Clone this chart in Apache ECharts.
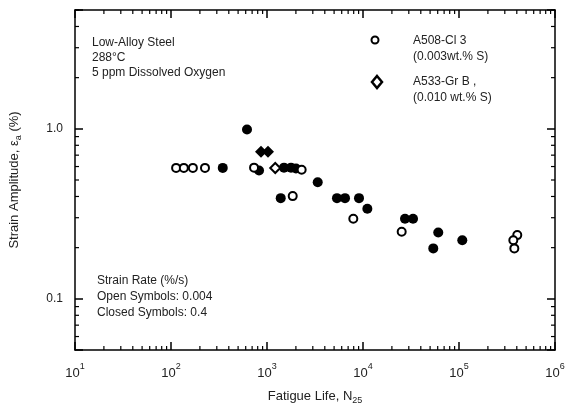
<!DOCTYPE html>
<html>
<head>
<meta charset="utf-8">
<script src="https://cdn.jsdelivr.net/npm/echarts@6/dist/echarts.min.js"></script>
<style>
  html, body { margin: 0; padding: 0; background: #fff; }
  #graph { width: 575px; height: 411px; }
</style>
</head>
<body>
<div id="graph"></div>
<script>
// fatigue life N25 vs strain amplitude (%)
const a508Closed = [
  [619, 0.99], [346, 0.589], [826, 0.568], [1503, 0.591], [1778, 0.591],
  [2004, 0.584], [3375, 0.485], [1390, 0.391], [5357, 0.391], [6494, 0.391],
  [9085, 0.391], [11100, 0.339], [27385, 0.296], [33200, 0.296],
  [60800, 0.2455], [53950, 0.198], [108200, 0.221]
];
const a508Open = [
  [113, 0.589], [136, 0.589], [169, 0.589], [226, 0.589], [733, 0.591],
  [2296, 0.574], [1853, 0.402], [7925, 0.296], [25290, 0.248],
  [404600, 0.237], [368000, 0.221], [377000, 0.198]
];
const a533Closed = [[866, 0.734], [1024, 0.734]];
const a533Open = [[1219, 0.588]];

const xTicks = [10, 100, 1000, 10000, 100000, 1000000];
const yTickLabels = { '-1': '0.1', '0': '1.0' };

// minor tick positions (2..9 x 10^n)
const xMinor = [];
for (let e = 1; e < 6; e++) for (let m = 2; m <= 9; m++) xMinor.push([m * Math.pow(10, e), 1]);
const yMinor = [];
[0.06, 0.07, 0.08, 0.09].forEach(v => yMinor.push([100, v]));
for (let e = -1; e < 1; e++) for (let m = 2; m <= 9; m++) {
  const v = m * Math.pow(10, e);
  if (v <= 5) yMinor.push([100, v]);
}

const font = 'Liberation Sans, Arial, sans-serif';
const ink = '#222';

function isPow10(v) {
  const l = Math.log10(v);
  return Math.abs(l - Math.round(l)) < 1e-6;
}

function createOptions() {
  const axisLine = { show: true, onZero: false, lineStyle: { color: '#000', width: 1.5 } };
  const tick = { show: true, inside: true, length: 8, lineStyle: { color: '#000', width: 1.5 } };
  const xBase = { type: 'log', logBase: 10, min: 10, max: 1000000, splitLine: { show: false }, axisLine: axisLine, axisTick: tick };
  const yBase = { type: 'log', logBase: 10, min: 0.05, max: 5, splitLine: { show: false }, axisLine: axisLine, axisTick: tick };
  return {
    animation: false,
    textStyle: { fontFamily: font },
    grid: { left: 75, right: 20, top: 10, bottom: 61 },
    xAxis: [
      Object.assign({}, xBase, {
        position: 'bottom',
        name: 'Fatigue Life, N{sub|25}',
        nameLocation: 'middle',
        nameGap: 38,
        nameTextStyle: {
          color: ink, fontSize: 13, fontFamily: font,
          rich: { sub: { fontSize: 9, verticalAlign: 'bottom', padding: [8, 0, 0, 0], fontFamily: font, color: ink } }
        },
        axisLabel: {
          margin: 12,
          color: ink,
          formatter: v => isPow10(v) ? '{b|10}{s|' + Math.round(Math.log10(v)) + '}' : '',
          rich: {
            b: { fontSize: 13, lineHeight: 18, verticalAlign: 'bottom', fontFamily: font, color: ink },
            s: { fontSize: 9, lineHeight: 18, verticalAlign: 'top', fontFamily: font, color: ink }
          }
        }
      }),
      Object.assign({}, xBase, { position: 'top', axisLabel: { show: false } })
    ],
    yAxis: [
      Object.assign({}, yBase, {
        position: 'left',
        name: 'Strain Amplitude, ε{sub|a} (%)',
        nameLocation: 'middle',
        nameGap: 52,
        nameTextStyle: {
          color: ink, fontSize: 13, fontFamily: font,
          rich: { sub: { fontSize: 9, verticalAlign: 'bottom', padding: [8, 0, 0, 0], fontFamily: font, color: ink } }
        },
        axisLabel: {
          margin: 12,
          color: ink,
          fontSize: 12,
          formatter: v => {
            if (!isPow10(v)) return '';
            const k = String(Math.round(Math.log10(v)));
            return yTickLabels[k] || '';
          }
        }
      }),
      Object.assign({}, yBase, { position: 'right', axisLabel: { show: false } })
    ],
    graphic: [
      { type: 'text', left: 92, top: 35, style: { text: 'Low-Alloy Steel\n288°C\n5 ppm Dissolved Oxygen', fill: ink, font: '12px ' + font, lineHeight: 15 } },
      { type: 'text', left: 97, top: 273, style: { text: 'Strain Rate (%/s)\nOpen Symbols: 0.004\nClosed Symbols: 0.4', fill: ink, font: '12px ' + font, lineHeight: 16 } },
      { type: 'circle', shape: { cx: 375, cy: 40, r: 3.5 }, style: { fill: '#fff', stroke: '#000', lineWidth: 2 } },
      { type: 'polygon', shape: { points: [[377, 76], [382, 82], [377, 88], [372, 82]] }, style: { fill: '#fff', stroke: '#000', lineWidth: 2.5 } },
      { type: 'text', left: 413, top: 33, style: { text: 'A508-Cl 3\n(0.003wt.% S)', fill: ink, font: '12px ' + font, lineHeight: 16 } },
      { type: 'text', left: 413, top: 74, style: { text: 'A533-Gr B ,\n(0.010 wt.% S)', fill: ink, font: '12px ' + font, lineHeight: 16 } }
    ],
    series: [
      {
        type: 'custom', name: 'xMinor', silent: true, data: xMinor, z: 1,
        renderItem: (params, api) => {
          const v = api.value(0);
          const b = api.coord([v, 0.05]);
          const t = api.coord([v, 5]);
          const style = { stroke: '#000', lineWidth: 1.2 };
          return { type: 'group', children: [
            { type: 'line', shape: { x1: b[0], y1: b[1], x2: b[0], y2: b[1] - 4 }, style: style },
            { type: 'line', shape: { x1: t[0], y1: t[1], x2: t[0], y2: t[1] + 4 }, style: style }
          ] };
        }
      },
      {
        type: 'custom', name: 'yMinor', silent: true, data: yMinor, z: 1,
        renderItem: (params, api) => {
          const v = api.value(1);
          const l = api.coord([10, v]);
          const r = api.coord([1000000, v]);
          const style = { stroke: '#000', lineWidth: 1.2 };
          return { type: 'group', children: [
            { type: 'line', shape: { x1: l[0], y1: l[1], x2: l[0] + 4, y2: l[1] }, style: style },
            { type: 'line', shape: { x1: r[0], y1: r[1], x2: r[0] - 4, y2: r[1] }, style: style }
          ] };
        }
      },
      {
        name: 'A508-Cl 3 closed', type: 'scatter', symbol: 'circle', symbolSize: 10,
        itemStyle: { color: '#000', opacity: 1 }, data: a508Closed
      },
      {
        name: 'A508-Cl 3 open', type: 'scatter', symbol: 'circle', symbolSize: 8,
        itemStyle: { color: '#fff', borderColor: '#000', borderWidth: 2, opacity: 1 }, data: a508Open
      },
      {
        name: 'A533-Gr B closed', type: 'scatter', symbol: 'diamond', symbolSize: 12,
        itemStyle: { color: '#000', opacity: 1 }, data: a533Closed
      },
      {
        name: 'A533-Gr B open', type: 'scatter', symbol: 'diamond', symbolSize: 10,
        itemStyle: { color: '#fff', borderColor: '#000', borderWidth: 2, opacity: 1 }, data: a533Open
      }
    ]
  };
}

function showGraph() {
  const myChart = echarts.init(document.getElementById('graph'), null, { renderer: 'canvas' });
  myChart.setOption(createOptions());
}

showGraph();
</script>
</body>
</html>
